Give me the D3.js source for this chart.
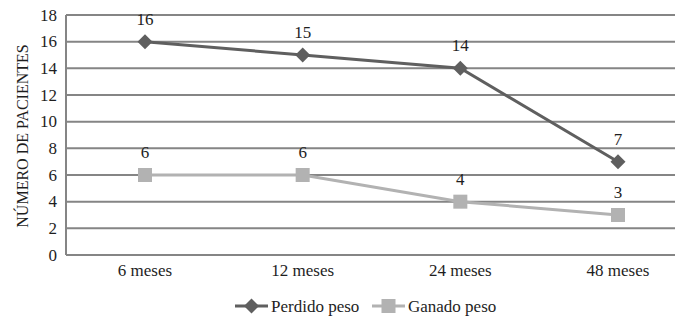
<!DOCTYPE html>
<html><head><meta charset="utf-8">
<script src="https://cdn.jsdelivr.net/npm/d3@7"></script>
</head><body style="margin:0;background:#fff"><svg id="c" width="682" height="321" style="display:block"></svg>
<script>
const categories = ["6 meses","12 meses","24 meses","48 meses"];
const perdido = [16,15,14,7];
const ganado = [6,6,4,3];
const yTicks = [0,2,4,6,8,10,12,14,16,18];
const seriesNames = ["Perdido peso","Ganado peso"];

const svg = d3.select("#c");
const L=66,R=675,T=15,B=255;
const x = d3.scalePoint().domain(categories).range([145,618]);
const y = d3.scaleLinear().domain([0,18]).range([B,T]);

function txt(sel, size){ return sel.style("font", size + "px serif").attr("fill","#1e1e1e"); }

svg.append("g").selectAll("line").data(yTicks).join("line")
  .attr("x1",L).attr("x2",R).attr("y1",d=>y(d)).attr("y2",d=>y(d))
  .attr("stroke","#858585").attr("stroke-width",2);
svg.append("line").attr("x1",L).attr("x2",L).attr("y1",T).attr("y2",B).attr("stroke","#858585").attr("stroke-width",2);

txt(svg.append("g").selectAll("text").data(yTicks).join("text"),17)
  .attr("x",57).attr("y",d=>y(d)+5.5).attr("text-anchor","end").text(d=>d);
txt(svg.append("g").selectAll("text").data(categories).join("text"),17)
  .attr("x",d=>x(d)).attr("y",276).attr("text-anchor","middle").text(d=>d);
txt(svg.append("text"),16).attr("transform","translate(28,136) rotate(-90)").attr("text-anchor","middle").text("NÚMERO DE PACIENTES");

const series = [
  {name:seriesNames[0], vals:perdido, color:"#5f5f5f", shape:"diamond"},
  {name:seriesNames[1], vals:ganado, color:"#b2b2b2", shape:"square"}
];
const line = d3.line().x((d,i)=>x(categories[i])).y(d=>y(d));
function marker(g, shape, color, cx, cy){
  if(shape==="diamond"){
    g.append("path").attr("d",`M${cx},${cy-7.5}L${cx+7.5},${cy}L${cx},${cy+7.5}L${cx-7.5},${cy}Z`).attr("fill",color);
  } else {
    g.append("rect").attr("x",cx-7).attr("y",cy-7).attr("width",14).attr("height",14).attr("fill",color);
  }
}
series.forEach(s=>{
  const g = svg.append("g");
  g.append("path").attr("d",line(s.vals)).attr("fill","none").attr("stroke",s.color).attr("stroke-width",3);
  s.vals.forEach((v,i)=>{
    marker(g,s.shape,s.color,x(categories[i]),y(v));
    txt(g.append("text"),17).attr("x",x(categories[i])).attr("y",y(v)-17).attr("text-anchor","middle").text(v);
  });
});

const leg = [{s:series[0],x0:235},{s:series[1],x0:372}];
leg.forEach(({s,x0})=>{
  const g=svg.append("g");
  g.append("line").attr("x1",x0).attr("x2",x0+33).attr("y1",306).attr("y2",306).attr("stroke",s.color).attr("stroke-width",3);
  marker(g,s.shape,s.color,x0+16.5,306);
  txt(g.append("text"),17).attr("x",x0+36).attr("y",311.5).text(s.name);
});
</script></body></html>
